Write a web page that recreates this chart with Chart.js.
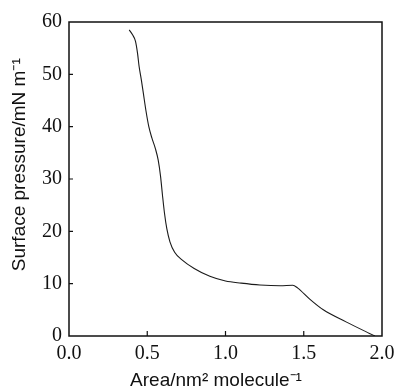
<!DOCTYPE html>
<html>
<head>
<meta charset="utf-8">
<script src="https://cdn.jsdelivr.net/npm/chart.js@4/dist/chart.umd.min.js"></script>
<style>
html,body{margin:0;padding:0;background:#fff;}
#wrap{width:396px;height:390px;}
</style>
</head>
<body>
<div id="wrap"><canvas id="c" width="396" height="390"></canvas></div>
<script>
const areaValues = [0.385,0.405,0.425,0.438,0.448,0.462,0.475,0.492,0.510,0.530,0.552,0.570,0.585,0.597,0.610,0.625,0.645,0.675,0.72,0.80,0.90,1.00,1.10,1.22,1.35,1.43,1.46,1.54,1.625,1.77,1.92,1.955];
const pressureValues = [58.5,57.6,56.3,54.0,51.5,49.0,46.4,43.0,40.0,37.8,35.8,33.6,30.5,27.0,23.5,20.5,18.0,16.0,14.6,12.9,11.4,10.5,10.1,9.75,9.6,9.7,9.2,7.0,5.0,2.7,0.5,0.0];
const xTickValues = [0.0,0.5,1.0,1.5,2.0];
const yTickValues = [0,10,20,30,40,50,60];

const points = areaValues.map((a,i)=>({x:a,y:pressureValues[i]}));

const frame = {
  id:'frame',
  afterDraw(chart){
    const {ctx, chartArea:{left,right,top,bottom}, scales:{x,y}} = chart;
    ctx.save();
    ctx.strokeStyle = '#111';
    ctx.lineWidth = 1.5;
    ctx.strokeRect(left, top, right-left, bottom-top);
    ctx.lineWidth = 1.2;
    ctx.beginPath();
    x.ticks.forEach(t=>{
      if (t.value<=0 || t.value>=2) return;
      const px = x.getPixelForValue(t.value);
      ctx.moveTo(px, bottom); ctx.lineTo(px, bottom-5);
    });
    y.ticks.forEach(t=>{
      if (t.value<=0 || t.value>=60) return;
      const py = y.getPixelForValue(t.value);
      ctx.moveTo(left, py); ctx.lineTo(left+4, py);
    });
    ctx.stroke();
    ctx.restore();
  }
};

new Chart(document.getElementById('c'), {
  type:'scatter',
  data:{datasets:[{
    data:points,
    showLine:true,
    borderColor:'#1a1a1a',
    borderWidth:1.1,
    pointRadius:0,
    cubicInterpolationMode:'monotone',
    fill:false
  }]},
  options:{
    responsive:false,
    animation:false,
    layout:{padding:{left:0,top:22,right:14,bottom:0}},
    plugins:{legend:{display:false},tooltip:{enabled:false}},
    scales:{
      x:{
        type:'linear',min:0,max:2,
        afterBuildTicks(s){ s.ticks = xTickValues.map(v=>({value:v})); },
        afterFit(s){ s.height = 54; s.paddingLeft = 0; s.paddingRight = 0; },
        grid:{display:false,drawTicks:false},
        border:{display:false},
        ticks:{
          color:'#111',padding:6,maxRotation:0,autoSkip:false,
          font:{family:'"Liberation Serif", "Times New Roman", serif',size:20},
          callback:v=>Number(v).toFixed(1)
        },
        title:{display:true,text:'Area/nm² molecule⁻¹\u2002\u2002',color:'#111',
          font:{family:'"Liberation Sans", Arial, sans-serif',size:19,lineHeight:1},padding:{top:0,bottom:0}}
      },
      y:{
        type:'linear',min:0,max:60,
        afterBuildTicks(s){ s.ticks = yTickValues.map(v=>({value:v})); },
        afterFit(s){ s.width = 69; s.paddingTop = 0; s.paddingBottom = 0; },
        grid:{display:false,drawTicks:false},
        border:{display:false},
        ticks:{
          color:'#111',padding:7,autoSkip:false,
          font:{family:'"Liberation Serif", "Times New Roman", serif',size:20}
        },
        title:{display:true,text:'\u2002\u2002\u2002Surface pressure/mN m⁻¹',color:'#111',
          font:{family:'"Liberation Sans", Arial, sans-serif',size:19,lineHeight:1},padding:{top:10,bottom:0}}
      }
    }
  },
  plugins:[frame]
});
</script>
</body>
</html>
